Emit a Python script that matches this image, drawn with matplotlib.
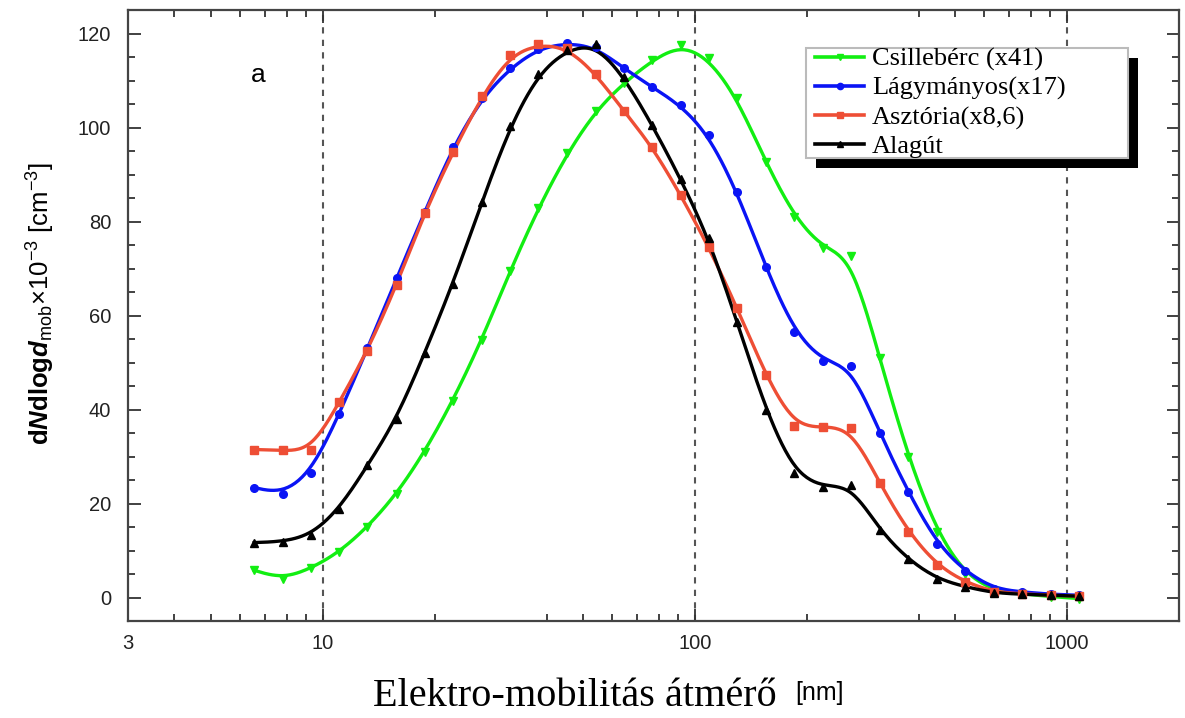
import numpy as np
import matplotlib
matplotlib.use('Agg')
import matplotlib.pyplot as plt
from matplotlib.patches import Rectangle

plt.rcParams['font.family'] = ['Liberation Sans', 'DejaVu Sans']
plt.rcParams['mathtext.fontset'] = 'custom'
plt.rcParams['mathtext.rm'] = 'Liberation Sans'
plt.rcParams['mathtext.it'] = 'Liberation Sans:italic'
plt.rcParams['mathtext.bf'] = 'Liberation Sans:bold'
plt.rcParams['mathtext.bfit'] = 'Liberation Sans:italic:bold'

# mobility diameters (nm)
diam = [6.55, 7.81, 9.31, 11.1, 13.2, 15.8, 18.8, 22.4, 26.8, 31.9, 38.0, 45.4,
        54.1, 64.5, 76.9, 91.7, 109, 130, 155, 185, 221, 263, 314, 374, 447,
        532, 635, 757, 903, 1076]

csillebérc = [5.8, 4.0, 6.2, 9.7, 15.0, 22.0, 31.0, 41.9, 54.9, 69.5, 82.9, 94.5,
              103.5, 109.5, 114.3, 117.6, 114.7, 106.2, 92.7, 81.0, 74.3, 72.6,
              50.9, 29.9, 14.0, 5.0, 1.5, 0.8, 0.2, -0.2]
lágymányos = [23.4, 22.1, 26.6, 39.1, 53.0, 67.9, 82.0, 95.9, 106.3, 112.6, 116.8,
              118.0, 117.1, 112.6, 108.6, 104.7, 98.4, 86.3, 70.3, 56.5, 50.3, 49.2,
              35.0, 22.5, 11.5, 5.6, 1.9, 1.2, 0.7, 0.5]
asztória = [31.5, 31.3, 31.3, 41.6, 52.5, 66.4, 81.9, 94.8, 106.7, 115.4, 117.7,
            117.0, 111.5, 103.5, 95.9, 85.6, 74.6, 61.6, 47.3, 36.5, 36.3, 36.0,
            24.3, 14.0, 6.9, 3.3, 1.2, 0.8, 0.5, 0.3]
alagút = [11.7, 11.9, 13.3, 18.9, 28.1, 38.0, 52.0, 66.8, 84.2, 100.3, 111.5,
          116.6, 117.7, 110.8, 100.5, 89.0, 76.4, 58.6, 39.9, 26.5, 23.5, 23.9,
          14.3, 8.1, 4.0, 2.3, 1.0, 0.7, 0.5, 0.3]

labels = ['Csillebérc (x41)', 'Lágymányos(x17)', 'Asztória(x8,6)', 'Alagút']
colors = ['#12EE12', '#0A14F5', '#EE4E35', '#000000']
markers = ['v', 'o', 's', '^']
series = [csillebérc, lágymányos, asztória, alagút]


def bspline(x, y, n=16):
    # uniform cubic B-spline in (log x, y), like Origin's B-spline line
    P = np.column_stack([np.log10(x), y])
    P = np.vstack([P[0], P[0], P, P[-1], P[-1]])
    M = np.array([[-1, 3, -3, 1], [3, -6, 3, 0], [-3, 0, 3, 0], [1, 4, 1, 0]]) / 6.0
    t = np.linspace(0, 1, n, endpoint=False)
    T = np.column_stack([t**3, t**2, t, np.ones_like(t)])
    segs = [T @ M @ P[i:i + 4] for i in range(len(P) - 3)]
    segs.append(P[-1:])
    out = np.vstack(segs)
    return 10 ** out[:, 0], out[:, 1]


W, H = 1185, 718
fig = plt.figure(figsize=(W / 100, H / 100), dpi=100)
ax = fig.add_axes([0.108, 0.135, 0.887, 0.851])

for xv in [10, 100, 1000]:
    ax.axvline(xv, color='#555555', ls=(0, (3, 3)), lw=1.5, zorder=1)

handles = []
for ys, c, m, lab in zip(series, colors, markers, labels):
    sx, sy = bspline(diam, ys)
    ax.plot(sx, sy, color=c, lw=2.4, zorder=3)
    ax.plot(diam, ys, ls='none', marker=m, color=c, ms=5.5, zorder=4)
    h, = ax.plot([], [], color=c, lw=2.6, marker=m, ms=4.5, label=lab)
    handles.append(h)

ax.set_xscale('log')
ax.set_xlim(3, 2000)
ax.set_ylim(-5, 125)
ax.set_xticks([3, 10, 100, 1000])
ax.set_xticklabels(['3', '10', '100', '1000'])
minor = [v * d for d in [1, 10, 100] for v in range(4, 10)] + [20, 200, 2000]
ax.set_xticks(sorted(set(minor)), minor=True)
ax.set_yticks(np.arange(0, 121, 20))
ax.set_yticks(np.arange(-5, 126, 5), minor=True)
ax.tick_params(which='both', direction='in', top=True, right=True,
               width=1.3, color='#333333', labelsize=14.5, labelcolor='#222222')
ax.tick_params(which='major', length=9, pad=9)
ax.tick_params(which='minor', length=5)
ax.tick_params(axis='y', which='major', pad=12)
for s in ax.spines.values():
    s.set_linewidth(1.6)
    s.set_color('#444444')

ax.text(0.124, 0.894, 'a', transform=ax.transAxes, fontsize=19, ha='center', va='center')

ax.set_ylabel(r'$\mathbf{d}\mathbfit{N}\mathbf{dlog}\mathbfit{d}_{\mathrm{mob}}$$\times$10$^{-3}$ [cm$^{-3}$]',
              fontsize=18.5)
ax.yaxis.set_label_coords(-0.068, 0.52)

fig.text(777 / W, 1 - 697 / H, 'Elektro-mobilitás átmérő', family='Liberation Serif',
         fontsize=29, ha='right', va='center')
fig.text(795 / W, 1 - 693 / H, '[nm]', fontsize=18, ha='left', va='center')


def px2ax(x, y):
    # figure pixel (from top-left) -> axes fraction
    return ((x - 128) / (0.887 * W), ((H - y) - 0.135 * H) / (0.851 * H))


leg = ax.legend(handles=handles, loc='upper left', bbox_to_anchor=px2ax(810, 42),
                borderaxespad=0, frameon=False, prop={'family': 'Liberation Serif', 'size': 19},
                handlelength=1.85, handletextpad=0.3, labelspacing=0.2, borderpad=0.2)
leg.set_zorder(7)

# legend box with a solid drop shadow
x0, y1 = px2ax(806, 48)
x1, y0 = px2ax(1128, 158)
sx0, sy1 = px2ax(816, 58)
ax.add_patch(Rectangle((sx0, sy1 - (y1 - y0)), x1 - x0, y1 - y0, transform=ax.transAxes,
                       facecolor='black', edgecolor='none', zorder=5, clip_on=False))
ax.add_patch(Rectangle((x0, y0), x1 - x0, y1 - y0, transform=ax.transAxes,
                       facecolor='white', edgecolor='#bbbbbb', lw=1.5, zorder=6, clip_on=False))

fig.savefig('out.png', dpi=100)
